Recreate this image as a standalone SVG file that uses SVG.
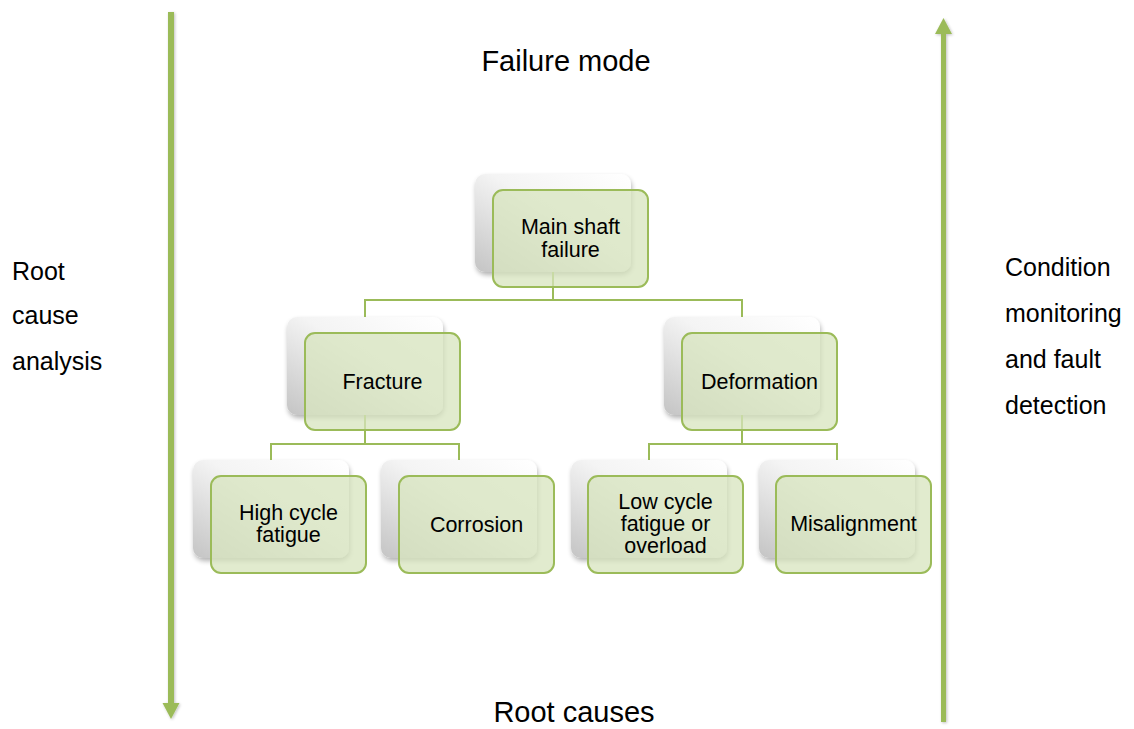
<svg xmlns="http://www.w3.org/2000/svg" width="1134" height="729" viewBox="0 0 1134 729">
<defs>
<linearGradient id="sg" x1="1" y1="0" x2="0" y2="1">
<stop offset="0" stop-color="#ffffff"/>
<stop offset="0.45" stop-color="#f4f4f4"/>
<stop offset="1" stop-color="#c4c4c4"/>
</linearGradient>
<filter id="ds" x="-20%" y="-20%" width="140%" height="140%">
<feGaussianBlur in="SourceAlpha" stdDeviation="2.5"/>
<feOffset dx="1" dy="3" result="b"/>
<feComponentTransfer><feFuncA type="linear" slope="0.3"/></feComponentTransfer>
<feMerge><feMergeNode/><feMergeNode in="SourceGraphic"/></feMerge>
</filter>
<filter id="as" x="-100%" y="-5%" width="300%" height="110%">
<feGaussianBlur in="SourceAlpha" stdDeviation="1.5"/>
<feOffset dx="1" dy="1"/>
<feComponentTransfer><feFuncA type="linear" slope="0.25"/></feComponentTransfer>
<feMerge><feMergeNode/><feMergeNode in="SourceGraphic"/></feMerge>
</filter>
</defs>
<style>
.sh{fill:url(#sg);filter:url(#ds);}
.bx{fill:#d7e4bd;fill-opacity:0.75;stroke:#9bbb59;stroke-width:2;}
.cn{fill:none;stroke:#9bbb59;stroke-width:2;}
.t{font-family:"Liberation Sans",Arial,sans-serif;font-size:21.5px;fill:#000;text-anchor:middle;}
.lb{font-family:"Liberation Sans",Arial,sans-serif;font-size:25px;fill:#000;}
.hd{font-family:"Liberation Sans",Arial,sans-serif;font-size:29px;fill:#000;text-anchor:middle;}
.ar{fill:#9bbb59;filter:url(#as);}
</style>
<rect width="1134" height="729" fill="#ffffff"/>

<g id="arrow-left">
<path class="ar" d="M168,12 H174 V703 H179.5 L171,719 L162.5,703 H168 Z"/>
</g>
<g id="arrow-right">
<path class="ar" d="M941,722 V34 H935 L943.5,18 L952,34 H946 V722 Z"/>
</g>

<g id="labels">
<text class="hd" x="566" y="71">Failure mode</text>
<text class="hd" x="574" y="722">Root causes</text>
<text class="lb" x="12" y="280">Root</text>
<text class="lb" x="12" y="324">cause</text>
<text class="lb" x="12" y="370">analysis</text>
<text class="lb" x="1005" y="276">Condition</text>
<text class="lb" x="1005" y="322">monitoring</text>
<text class="lb" x="1005" y="368">and fault</text>
<text class="lb" x="1005" y="414">detection</text>
</g>

<g id="shadows">
<rect class="sh" x="475" y="174" width="156" height="98" rx="10"/>
<rect class="sh" x="287" y="317" width="156" height="98" rx="10"/>
<rect class="sh" x="664" y="317" width="156" height="98" rx="10"/>
<rect class="sh" x="193" y="460" width="156" height="98" rx="10"/>
<rect class="sh" x="381" y="460" width="156" height="98" rx="10"/>
<rect class="sh" x="571" y="460" width="156" height="98" rx="10"/>
<rect class="sh" x="759" y="460" width="156" height="98" rx="10"/>
</g>

<g id="connectors">
<path class="cn" d="M553,272 V300 M365,317 V300 H742 V317"/>
<path class="cn" d="M365,415 V444 M271,460 V444 H459 V460"/>
<path class="cn" d="M742,415 V444 M649,460 V444 H837 V460"/>
</g>

<g id="main">
<rect class="bx" x="493" y="190" width="155" height="97" rx="10"/>
<text class="t" x="570.5" y="234">Main shaft</text>
<text class="t" x="570.5" y="257">failure</text>
</g>
<g id="fracture">
<rect class="bx" x="305" y="333" width="155" height="97" rx="10"/>
<text class="t" x="382.5" y="389">Fracture</text>
</g>
<g id="deformation">
<rect class="bx" x="682" y="333" width="155" height="97" rx="10"/>
<text class="t" x="759.5" y="389">Deformation</text>
</g>
<g id="high-cycle">
<rect class="bx" x="211" y="476" width="155" height="97" rx="10"/>
<text class="t" x="288.5" y="520">High cycle</text>
<text class="t" x="288.5" y="542">fatigue</text>
</g>
<g id="corrosion">
<rect class="bx" x="399" y="476" width="155" height="97" rx="10"/>
<text class="t" x="476.5" y="532">Corrosion</text>
</g>
<g id="low-cycle">
<rect class="bx" x="588" y="476" width="155" height="97" rx="10"/>
<text class="t" x="665.5" y="509">Low cycle</text>
<text class="t" x="665.5" y="531">fatigue or</text>
<text class="t" x="665.5" y="553">overload</text>
</g>
<g id="misalignment">
<rect class="bx" x="776" y="476" width="155" height="97" rx="10"/>
<text class="t" x="853.5" y="531">Misalignment</text>
</g>
</svg>
